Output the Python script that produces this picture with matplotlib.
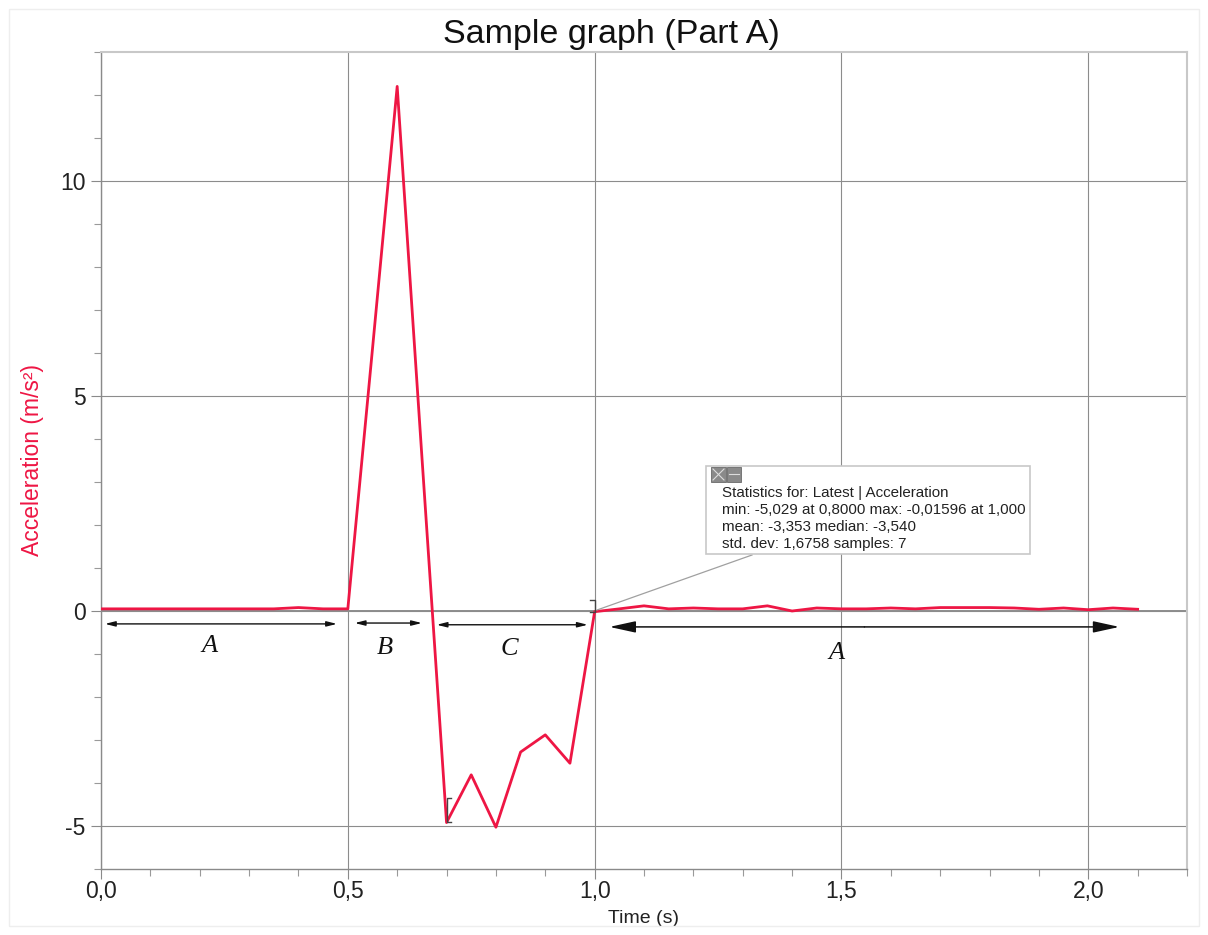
import matplotlib
matplotlib.use("Agg")
import matplotlib.pyplot as plt
from matplotlib.ticker import MultipleLocator, FuncFormatter
from matplotlib.patches import Rectangle

plt.rcParams['font.family'] = ['Liberation Sans', 'DejaVu Sans']
plt.rcParams['axes.unicode_minus'] = False

# ---- data ----
time = [0.00, 0.05, 0.10, 0.15, 0.20, 0.25, 0.30, 0.35, 0.40, 0.45, 0.50,
        0.55, 0.60, 0.65, 0.70, 0.75, 0.80, 0.85, 0.90, 0.95, 1.00,
        1.05, 1.10, 1.15, 1.20, 1.25, 1.30, 1.35, 1.40, 1.45, 1.50,
        1.55, 1.60, 1.65, 1.70, 1.75, 1.80, 1.85, 1.90, 1.95, 2.00,
        2.05, 2.10]
accel = [0.05, 0.05, 0.05, 0.05, 0.05, 0.05, 0.05, 0.05, 0.08, 0.05, 0.05,
         6.10, 12.20, 3.60, -4.92, -3.81, -5.029, -3.28, -2.88, -3.54, -0.016,
         0.05, 0.12, 0.05, 0.07, 0.05, 0.05, 0.12, 0.00, 0.07, 0.05,
         0.05, 0.07, 0.05, 0.08, 0.08, 0.08, 0.07, 0.04, 0.07, 0.03,
         0.07, 0.04]

xticks = [0.0, 0.5, 1.0, 1.5, 2.0]
yticks = [-5, 0, 5, 10]

region_labels = ['A', 'B', 'C', 'A']
region_spans = [(0.008, 0.478), (0.514, 0.650), (0.680, 0.986), (1.030, 2.063)]
region_arrow_y = [-0.30, -0.28, -0.32, -0.37]
region_label_pos = [(0.22, -0.82), (0.575, -0.86), (0.828, -0.88), (1.49, -0.98)]

stats_lines = ["Statistics for: Latest | Acceleration",
               "min: -5,029 at 0,8000 max: -0,01596 at 1,000",
               "mean: -3,353 median: -3,540",
               "std. dev: 1,6758 samples: 7"]

# ---- figure ----
fig = plt.figure(figsize=(12.08, 9.35), dpi=100)
ax = fig.add_axes([101/1208, 1 - 869/935, (1187 - 101)/1208, (869 - 52)/935])

ax.set_xlim(0.0, 2.2)
ax.set_ylim(-6, 13)

comma = FuncFormatter(lambda v, p: f"{v:.1f}".replace('.', ','))
ax.xaxis.set_minor_locator(MultipleLocator(0.1))
ax.set_xticks(xticks)
ax.xaxis.set_major_formatter(comma)
ax.yaxis.set_minor_locator(MultipleLocator(1))
ax.set_yticks(yticks)

ax.grid(True, which='major', color='#8c8c8c', linewidth=0.8)
ax.axhline(0, color='#7a7a7a', linewidth=1.2, zorder=1)

for s in ['top', 'right']:
    ax.spines[s].set_color('#c8c8c8')
    ax.spines[s].set_linewidth(1.5)
for s in ['left', 'bottom']:
    ax.spines[s].set_color('#8a8a8a')
    ax.spines[s].set_linewidth(1.0)

ax.tick_params(which='major', length=7, width=0.8, color='#8a8a8a',
               labelsize=16.5, labelcolor='#222222')
ax.tick_params(axis='x', which='major', pad=1)
ax.tick_params(axis='y', which='major', pad=4)
ax.tick_params(which='minor', length=5, width=0.8, color='#9a9a9a')

ax.plot(time, accel, color='#ee1644', linewidth=2.0, zorder=5)

fig.text(611/1208, 1 - 35/935, "Sample graph (Part A)", fontsize=24.5,
         ha='center', va='center', color='#111111')
ax.set_xlabel("Time (s)", fontsize=14, labelpad=5, color='#222222')
ax.set_ylabel("Acceleration (m/s²)", fontsize=16.5, color='#ee1644')
ax.yaxis.set_label_coords((44 - 101) / 1086, 0.50)

# region arrows and labels
for i, (lab, (x0, x1), ay, (lx, ly)) in enumerate(zip(region_labels, region_spans,
                                                       region_arrow_y, region_label_pos)):
    if i == 3:
        style = dict(arrowstyle='-|>,head_length=1.6,head_width=0.35', color='#111111', lw=1.1,
                     shrinkA=0, shrinkB=0)
        ax.annotate('', xy=(x1, ay), xytext=((x0 + x1) / 2, ay), arrowprops=style)
        ax.annotate('', xy=(x0, ay), xytext=((x0 + x1) / 2, ay), arrowprops=style)
    else:
        ax.annotate('', xy=(x1, ay), xytext=(x0, ay),
                    arrowprops=dict(arrowstyle='<|-|>,head_length=0.6,head_width=0.15',
                                    color='#111111', lw=1.0, shrinkA=0, shrinkB=0))
    ax.text(lx, ly, lab, fontsize=19, fontstyle='italic', family='Liberation Serif',
            ha='center', va='center', color='#111111')

# selection brackets
ax.plot([0.71, 0.7, 0.7, 0.71], [-4.35, -4.35, -4.9, -4.9], color='#444444', lw=1.0, zorder=6)
ax.plot([0.99, 1.0, 1.0, 0.99], [0.25, 0.25, -0.016, -0.016], color='#444444', lw=1.0, zorder=6)

# statistics box
bx0, by0, bx1, by1 = 706, 466, 1030, 554
fx = lambda px: px / 1208
fy = lambda py: 1 - py / 935
fig.patches.append(Rectangle((fx(bx0), fy(by1)), fx(bx1) - fx(bx0), fy(by0) - fy(by1),
                             transform=fig.transFigure, facecolor='white',
                             edgecolor='#c8c8c8', linewidth=1.2, zorder=10))
fig.patches.append(Rectangle((fx(711), fy(482)), fx(15), fy(0) - fy(15),
                             transform=fig.transFigure, facecolor='#8a8a8a',
                             edgecolor='#6a6a6a', linewidth=0.6, zorder=11))
fig.patches.append(Rectangle((fx(727), fy(482)), fx(14), fy(0) - fy(15),
                             transform=fig.transFigure, facecolor='#8a8a8a',
                             edgecolor='#6a6a6a', linewidth=0.6, zorder=11))
fig.lines.append(plt.Line2D([fx(713), fx(724)], [fy(469), fy(480)], transform=fig.transFigure,
                            color='#dddddd', lw=0.8, zorder=12))
fig.lines.append(plt.Line2D([fx(713), fx(724)], [fy(480), fy(469)], transform=fig.transFigure,
                            color='#dddddd', lw=0.8, zorder=12))
fig.lines.append(plt.Line2D([fx(729), fx(739)], [fy(474), fy(474)], transform=fig.transFigure,
                            color='#dddddd', lw=0.8, zorder=12))
for k, line in enumerate(stats_lines):
    fig.text(fx(722), fy(493 + 17 * k), line, fontsize=10.9, color='#222222',
             ha='left', va='center', zorder=12)

# connector line from box to data point
fig.lines.append(plt.Line2D([fx(752), fx(597)], [fy(555), fy(610)], transform=fig.transFigure,
                            color='#a0a0a0', lw=0.9, zorder=9))

# outer light frame
fig.patches.append(Rectangle((fx(9), fy(926)), fx(1199) - fx(9), fy(9) - fy(926),
                             transform=fig.transFigure, facecolor='none',
                             edgecolor='#eeeeee', linewidth=1.0, zorder=0))

fig.savefig("out.png", dpi=100)
